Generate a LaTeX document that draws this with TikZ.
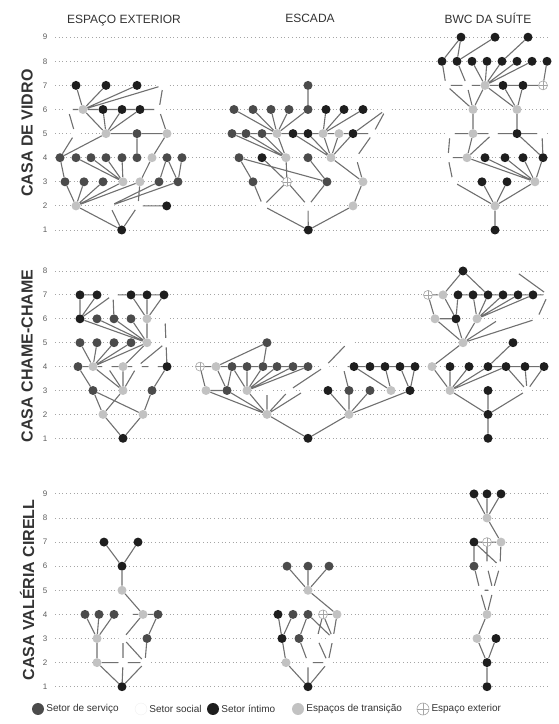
\documentclass[tikz,border=0pt]{standalone}
\usepackage{fontspec}
\setmainfont{Liberation Sans}
\usetikzlibrary{positioning}
\definecolor{srvcol}{HTML}{4B4B4B}
\definecolor{intcol}{HTML}{1E1E1E}
\definecolor{tracol}{HTML}{C2C2C2}
\definecolor{edgecol}{HTML}{707070}
\definecolor{lvlcol}{HTML}{A5A5A5}
\definecolor{txtcol}{HTML}{333333}
\pgfdeclarelayer{bg}
\pgfsetlayers{bg,main}
\tikzset{
  vert/.style={circle, inner sep=0pt, minimum size=9pt},
  srv/.style={vert, fill=srvcol},
  soc/.style={vert, fill=white},
  inti/.style={vert, fill=intcol},
  tra/.style={vert, fill=tracol},
  ext/.style={vert, fill=white, draw=lvlcol, line width=0.6pt,
    path picture={\draw[lvlcol, line width=0.5pt]
      (path picture bounding box.north) -- (path picture bounding box.south)
      (path picture bounding box.west) -- (path picture bounding box.east);}},
  lig/.style={draw=edgecol, line width=1.1pt},
  lvl/.style={draw=lvlcol, line width=0.9pt, dash pattern=on 0.9pt off 2.8pt},
  num/.style={font=\fontsize{8}{8}\selectfont, text=txtcol!80},
  ttl/.style={font=\fontsize{12}{12}\selectfont, text=txtcol, anchor=base},
  casa/.style={font=\bfseries\fontsize{16}{16}\selectfont, text=txtcol, rotate=90},
  leg/.style={font=\fontsize{10}{10}\selectfont, text=txtcol, inner sep=1pt},
}
\begin{document}
\begin{tikzpicture}[x=1pt, y=1pt]
\useasboundingbox (0,0) rectangle (559,724);

% titulos
\node[ttl] (tExt) at (124,700) {ESPAÇO EXTERIOR};
\node[ttl] (tEsc) at (310,701) {ESCADA};
\node[ttl] (tBwc) at (488,700) {BWC DA SUÍTE};
\node[casa] (cVid) at (27,591) {CASA DE VIDRO};
\node[casa] (cCha) at (27,368) {CASA CHAME-CHAME};
\node[casa] (cVal) at (27,134) {CASA VALÉRIA CIRELL};

% ---------------- casa de vidro
\begin{scope}[y=24.1pt, yshift=469.9pt]
\begin{pgfonlayer}{bg}
\foreach \l in {1,...,9} \draw[lvl] (55,\l) -- (548,\l);
\end{pgfonlayer}
\foreach \l in {1,...,9} \node[num] (ra\l) at (45,\l) {\l};
% espaco exterior
\node[inti] (a1) at (121.7,1) {};
\node[tra] (a2a) at (76,2) {}; \node[soc] (a2b) at (110,2) {}; \node[soc] (a2c) at (138,2) {}; \node[inti] (a2d) at (166.7,2) {};
\node[srv] (a3a) at (65,3) {}; \node[srv] (a3b) at (84,3) {}; \node[srv] (a3c) at (103,3) {}; \node[tra] (a3d) at (123,3) {};
\node[tra] (a3e) at (140,3) {}; \node[srv] (a3f) at (159,3) {}; \node[srv] (a3g) at (178,3) {};
\node[srv] (a4a) at (60,4) {}; \node[srv] (a4b) at (76,4) {}; \node[srv] (a4c) at (91,4) {}; \node[srv] (a4d) at (106,4) {};
\node[srv] (a4e) at (122,4) {}; \node[srv] (a4f) at (137,4) {}; \node[tra] (a4g) at (152,4) {}; \node[srv] (a4h) at (167,4) {}; \node[srv] (a4i) at (182,4) {};
\node[soc] (a5a) at (75,5) {}; \node[tra] (a5b) at (106,5) {}; \node[srv] (a5c) at (137,5) {}; \node[tra] (a5d) at (167,5) {};
\node[soc] (a6a) at (68,6) {}; \node[tra] (a6b) at (83,6) {}; \node[inti] (a6c) at (103,6) {}; \node[inti] (a6d) at (122,6) {};
\node[inti] (a6e) at (140,6) {}; \node[soc] (a6f) at (159,6) {};
\node[inti] (a7a) at (76,7) {}; \node[inti] (a7b) at (106,7) {}; \node[inti] (a7c) at (137,7) {}; \node[soc] (a7d) at (163,7) {};
% escada
\node[inti] (b1) at (308.3,1) {};
\node[soc] (b2a) at (263,2) {}; \node[soc] (b2b) at (308,2) {}; \node[tra] (b2c) at (353,2) {};
\node[srv] (b3a) at (253,3) {}; \node[ext] (b3b) at (287,3) {}; \node[srv] (b3c) at (327,3) {}; \node[tra] (b3d) at (363,3) {};
\node[srv] (b4a) at (239,4) {}; \node[inti] (b4b) at (262,4) {}; \node[tra] (b4c) at (286,4) {}; \node[srv] (b4d) at (308,4) {};
\node[tra] (b4e) at (331,4) {}; \node[soc] (b4f) at (356,4) {};
\node[srv] (b5a) at (232,5) {}; \node[srv] (b5b) at (246,5) {}; \node[srv] (b5c) at (262,5) {}; \node[tra] (b5d) at (277,5) {};
\node[inti] (b5e) at (293,5) {}; \node[inti] (b5f) at (308,5) {}; \node[tra] (b5g) at (323,5) {}; \node[tra] (b5h) at (339,5) {};
\node[inti] (b5i) at (353,5) {}; \node[soc] (b5j) at (373,5) {};
\node[srv] (b6a) at (234,6) {}; \node[srv] (b6b) at (253,6) {}; \node[srv] (b6c) at (271,6) {}; \node[srv] (b6d) at (289,6) {};
\node[srv] (b6e) at (308,6) {}; \node[inti] (b6f) at (326,6) {}; \node[inti] (b6g) at (344,6) {}; \node[inti] (b6h) at (363,6) {};
\node[soc] (b6i) at (386,6) {};
\node[srv] (b7) at (308,7) {};
% bwc da suite
\node[inti] (c1) at (495,1) {};
\node[tra] (c2) at (495,2) {};
\node[soc] (c3a) at (453,3) {}; \node[inti] (c3b) at (482,3) {}; \node[inti] (c3c) at (507,3) {}; \node[tra] (c3d) at (535,3) {};
\node[soc] (c4a) at (448,4) {}; \node[tra] (c4b) at (467,4) {}; \node[inti] (c4c) at (485,4) {}; \node[inti] (c4d) at (505,4) {};
\node[inti] (c4e) at (523,4) {}; \node[inti] (c4f) at (543,4) {};
\node[soc] (c5a) at (450,5) {}; \node[tra] (c5b) at (473,5) {}; \node[soc] (c5c) at (493,5) {}; \node[inti] (c5d) at (517,5) {}; \node[soc] (c5e) at (542,5) {};
\node[tra] (c6a) at (473,6) {}; \node[tra] (c6b) at (517,6) {};
\node[soc] (c7a) at (446,7) {}; \node[soc] (c7b) at (467,7) {}; \node[tra] (c7c) at (485,7) {}; \node[inti] (c7d) at (503,7) {};
\node[inti] (c7e) at (523,7) {}; \node[ext] (c7f) at (543,7) {};
\node[inti] (c8a) at (442,8) {}; \node[inti] (c8b) at (457,8) {}; \node[inti] (c8c) at (472,8) {}; \node[inti] (c8d) at (487,8) {};
\node[inti] (c8e) at (502,8) {}; \node[inti] (c8f) at (517,8) {}; \node[inti] (c8g) at (532,8) {}; \node[inti] (c8h) at (547,8) {};
\node[inti] (c9a) at (461,9) {}; \node[inti] (c9b) at (495,9) {}; \node[inti] (c9c) at (528,9) {};
\begin{pgfonlayer}{bg}
\draw[lig] (a1) -- (a2a) (a1) -- (a2b) (a1) -- (a2c) (a2c) -- (a2d)
  (a2a) -- (a3a) (a3a) -- (a4a) (a2a) -- (a3b) (a2a) -- (a3c) (a2a) -- (a3d) (a2a) -- (a3e)
  (a2b) -- (a3f) (a2b) -- (a3g) (a2c) -- (a3e)
  (a4b) -- (a3d) (a4c) -- (a3d) (a4d) -- (a3d) (a4e) -- (a3d) (a4f) -- (a5c)
  (a3e) -- (a4g) (a4g) -- (a5d) (a3f) -- (a4h) (a4h) -- (a3g) (a3g) -- (a4i)
  (a4a) -- (a5b) (a4a) -- (a5a) (a5a) -- (a6a)
  (a5b) -- (a6b) (a5b) -- (a6c) (a5b) -- (a6d) (a5b) -- (a6e) (a5b) -- (a5c) (a5c) -- (a5d)
  (a6a) -- (a6b) (a6b) -- (a6c) (a6c) -- (a6d) (a6d) -- (a6e) (a6e) -- (a6f)
  (a6f) -- (a7d) (a6f) -- (a5d)
  (a6b) -- (a7a) (a6b) -- (a7b) (a6b) -- (a7c) (a6b) -- (a7d);
\draw[lig] (b1) -- (b2a) (b1) -- (b2b) (b1) -- (b2c)
  (b2a) -- (b3a) (b2a) -- (b3b) (b2b) -- (b3b) (b2b) -- (b3c) (b2c) -- (b3d)
  (b3a) -- (b4a) (b4a) -- (b3c) (b4b) -- (b3b) (b4c) -- (b3b) (b4d) -- (b3c)
  (b4e) -- (b3d) (b4f) -- (b3d) (b4f) -- (b5j)
  (b5a) -- (b4c) (b5b) -- (b4c) (b5c) -- (b4c) (b5d) -- (b4c)
  (b5e) -- (b4e) (b5f) -- (b4e) (b5g) -- (b4e) (b5h) -- (b4e) (b5i) -- (b4e)
  (b5a) -- (b5b) (b5b) -- (b5c) (b5c) -- (b5d) (b5d) -- (b5e) (b5e) -- (b5f)
  (b5f) -- (b5g) (b5g) -- (b5h) (b5h) -- (b5i) (b5i) -- (b5j)
  (b6a) -- (b5d) (b6b) -- (b5d) (b6c) -- (b5d) (b6d) -- (b5d) (b6e) -- (b5d)
  (b6f) -- (b5g) (b6g) -- (b5g) (b6h) -- (b5g) (b6i) -- (b5i) (b6i) -- (b5j)
  (b7) -- (b6e);
\draw[lig] (c1) -- (c2) (c2) -- (c3a) (c2) -- (c3b) (c2) -- (c3c) (c2) -- (c3d)
  (c3a) -- (c4a) (c4a) -- (c5a) (c4a) -- (c4b)
  (c4b) -- (c3d) (c4c) -- (c3d) (c4d) -- (c3d) (c4e) -- (c3d) (c4f) -- (c3d)
  (c4b) -- (c5b) (c4b) -- (c5c)
  (c5a) -- (c5b) (c5b) -- (c5c) (c5c) -- (c5d) (c5d) -- (c5e)
  (c5b) -- (c6a) (c5d) -- (c6b) (c5d) -- (c4f) (c5e) -- (c4f)
  (c6a) -- (c7a) (c6a) -- (c7b) (c6a) -- (c7c)
  (c6b) -- (c7c) (c6b) -- (c7d) (c6b) -- (c7e)
  (c7a) -- (c7b) (c7b) -- (c7c) (c7c) -- (c7d) (c7d) -- (c7e) (c7e) -- (c7f)
  (c7c) -- (c8c) (c7c) -- (c8d) (c7c) -- (c8e) (c7c) -- (c8f) (c7c) -- (c8g)
  (c7a) -- (c8a) (c7b) -- (c8b) (c8h) -- (c7f)
  (c8a) -- (c9a) (c8b) -- (c9a) (c8b) -- (c9b) (c8e) -- (c9c);
\end{pgfonlayer}
\end{scope}

% ---------------- casa chame-chame
\begin{scope}[y=23.9pt, yshift=261.8pt]
\begin{pgfonlayer}{bg}
\foreach \l in {1,...,8} \draw[lvl] (55,\l) -- (548,\l);
\end{pgfonlayer}
\foreach \l in {1,...,8} \node[num] (rb\l) at (45,\l) {\l};
% espaco exterior
\node[inti] (d1) at (123,1) {};
\node[tra] (d2a) at (103,2) {}; \node[tra] (d2b) at (143,2) {};
\node[srv] (d3a) at (93,3) {}; \node[tra] (d3b) at (123,3) {}; \node[srv] (d3c) at (152,3) {};
\node[srv] (d4a) at (78,4) {}; \node[tra] (d4b) at (93,4) {}; \node[soc] (d4c) at (107,4) {}; \node[tra] (d4d) at (123,4) {};
\node[soc] (d4e) at (137,4) {}; \node[soc] (d4f) at (153,4) {}; \node[inti] (d4g) at (167,4) {};
\node[srv] (d5a) at (80,5) {}; \node[srv] (d5b) at (97,5) {}; \node[srv] (d5c) at (114,5) {}; \node[srv] (d5d) at (131,5) {};
\node[tra] (d5e) at (147,5) {}; \node[soc] (d5f) at (166,5) {};
\node[inti] (d6a) at (80,6) {}; \node[srv] (d6b) at (97,6) {}; \node[srv] (d6c) at (114,6) {}; \node[srv] (d6d) at (131,6) {};
\node[tra] (d6e) at (147,6) {}; \node[soc] (d6f) at (165,6) {};
\node[inti] (d7a) at (80,7) {}; \node[inti] (d7b) at (97,7) {}; \node[soc] (d7c) at (113,7) {}; \node[inti] (d7d) at (131,7) {};
\node[inti] (d7e) at (147,7) {}; \node[inti] (d7f) at (164,7) {};
% escada
\node[inti] (e1) at (308,1) {};
\node[tra] (e2a) at (267,2) {}; \node[tra] (e2b) at (349,2) {};
\node[tra] (e3a) at (206,3) {}; \node[srv] (e3b) at (227,3) {}; \node[tra] (e3c) at (247,3) {}; \node[soc] (e3d) at (267,3) {};
\node[soc] (e3e) at (289,3) {}; \node[soc] (e3f) at (305,3) {}; \node[inti] (e3g) at (328,3) {}; \node[srv] (e3h) at (349,3) {};
\node[srv] (e3i) at (370,3) {}; \node[tra] (e3j) at (391,3) {}; \node[inti] (e3k) at (410,3) {};
\node[ext] (e4a) at (200,4) {}; \node[tra] (e4b) at (216,4) {}; \node[srv] (e4c) at (232,4) {}; \node[srv] (e4d) at (247,4) {};
\node[srv] (e4e) at (263,4) {}; \node[srv] (e4f) at (277,4) {}; \node[srv] (e4g) at (293,4) {}; \node[srv] (e4h) at (308,4) {};
\node[soc] (e4i) at (325,4) {}; \node[soc] (e4j) at (343,4) {}; \node[inti] (e4k) at (354,4) {}; \node[inti] (e4l) at (370,4) {};
\node[inti] (e4m) at (385,4) {}; \node[inti] (e4n) at (400,4) {}; \node[inti] (e4o) at (415,4) {};
\node[srv] (e5a) at (267,5) {}; \node[soc] (e5b) at (348,5) {};
% bwc da suite
\node[inti] (f1) at (488,1) {};
\node[inti] (f2) at (488,2) {};
\node[tra] (f3a) at (450,3) {}; \node[inti] (f3b) at (488,3) {}; \node[soc] (f3c) at (527,3) {};
\node[tra] (f4a) at (432,4) {}; \node[inti] (f4b) at (450,4) {}; \node[inti] (f4c) at (469,4) {}; \node[inti] (f4d) at (488,4) {};
\node[inti] (f4e) at (506,4) {}; \node[inti] (f4f) at (525,4) {}; \node[inti] (f4g) at (544,4) {};
\node[tra] (f5a) at (463,5) {}; \node[inti] (f5b) at (513,5) {};
\node[tra] (f6a) at (435,6) {}; \node[inti] (f6b) at (456,6) {}; \node[tra] (f6c) at (477,6) {}; \node[soc] (f6d) at (500,6) {};
\node[soc] (f6e) at (537,6) {};
\node[ext] (f7a) at (428,7) {}; \node[tra] (f7b) at (443,7) {}; \node[inti] (f7c) at (458,7) {}; \node[inti] (f7d) at (473,7) {};
\node[inti] (f7e) at (488,7) {}; \node[inti] (f7f) at (503,7) {}; \node[inti] (f7g) at (518,7) {}; \node[inti] (f7h) at (533,7) {};
\node[soc] (f7i) at (548,7) {};
\node[inti] (f8a) at (463,8) {}; \node[soc] (f8b) at (515,8) {};
\begin{pgfonlayer}{bg}
\draw[lig] (d1) -- (d2a) (d1) -- (d2b) (d2a) -- (d3a) (d2a) -- (d3b) (d3a) -- (d2b) (d2b) -- (d3c)
  (d3a) -- (d4a) (d3b) -- (d4b) (d3b) -- (d4c) (d3b) -- (d4d) (d3b) -- (d4e) (d3c) -- (d4g)
  (d4a) -- (d4b) (d4b) -- (d4c) (d4c) -- (d4d) (d4d) -- (d4e) (d4e) -- (d4f) (d4f) -- (d4g)
  (d4b) -- (d5a) (d4b) -- (d5b) (d4b) -- (d5c) (d4b) -- (d5d) (d4b) -- (d5e)
  (d4d) -- (d5e) (d4e) -- (d5f) (d4g) -- (d5f) (d5f) -- (d6f)
  (d5e) -- (d6a) (d5e) -- (d6b) (d5e) -- (d6c) (d5e) -- (d6d) (d5e) -- (d6e)
  (d6a) -- (d7a) (d6a) -- (d7b) (d6a) -- (d7c) (d6c) -- (d7c)
  (d7a) -- (d7b) (d7c) -- (d7d) (d7d) -- (d7e) (d7e) -- (d7f)
  (d6e) -- (d7d) (d6e) -- (d7e) (d6e) -- (d7f);
\draw[lig] (e1) -- (e2a) (e1) -- (e2b)
  (e2a) -- (e3a) (e2a) -- (e3b) (e2a) -- (e3c) (e2a) -- (e3d) (e2a) -- (e3e) (e2a) -- (e3f)
  (e3a) -- (e3b) (e3a) -- (e4a) (e4a) -- (e4b) (e4b) -- (e3b) (e3b) -- (e4c) (e4c) -- (e3c)
  (e3c) -- (e4d) (e3c) -- (e4e) (e3c) -- (e4f) (e3c) -- (e4g) (e3c) -- (e4h)
  (e4b) -- (e4c) (e4c) -- (e4d) (e4d) -- (e4e) (e4e) -- (e4f) (e4f) -- (e4g) (e4g) -- (e4h)
  (e4b) -- (e5a) (e5a) -- (e4e) (e3e) -- (e4i) (e4i) -- (e5b)
  (e2b) -- (e3g) (e2b) -- (e3h) (e2b) -- (e3i) (e2b) -- (e3k) (e3h) -- (e4j)
  (e4j) -- (e4k) (e4k) -- (e4l) (e4l) -- (e4m) (e4m) -- (e4n) (e4n) -- (e4o)
  (e4k) -- (e3j) (e4m) -- (e3j) (e4n) -- (e3k) (e4o) -- (e3k);
\draw[lig] (f1) -- (f2) (f2) -- (f3a) (f2) -- (f3b) (f2) -- (f3c)
  (f3a) -- (f4b) (f3a) -- (f4c) (f3a) -- (f4d) (f3a) -- (f4e) (f4a) -- (f3a)
  (f3c) -- (f4e) (f3c) -- (f4f) (f3c) -- (f4g)
  (f4d) -- (f5b) (f4d) -- (f4e) (f4e) -- (f4f) (f4f) -- (f4g)
  (f4a) -- (f5a) (f5a) -- (f6a) (f5a) -- (f6b) (f5a) -- (f6c) (f5a) -- (f6d) (f5a) -- (f6e)
  (f6a) -- (f6b) (f7a) -- (f6a) (f7a) -- (f7b) (f7b) -- (f6b) (f7b) -- (f8a) (f8a) -- (f7e)
  (f7c) -- (f6b) (f7c) -- (f7d) (f7d) -- (f7e) (f7e) -- (f7f) (f7f) -- (f7g) (f7g) -- (f7h) (f7h) -- (f7i)
  (f7d) -- (f6c) (f7e) -- (f6c) (f7f) -- (f6c) (f7g) -- (f6c) (f7h) -- (f6c)
  (f7i) -- (f8b) (f7i) -- (f6e);
\end{pgfonlayer}
\end{scope}

% ---------------- casa valeria cirell
\begin{scope}[y=24.1pt, yshift=13.2pt]
\begin{pgfonlayer}{bg}
\foreach \l in {1,...,9} \draw[lvl] (55,\l) -- (548,\l);
\end{pgfonlayer}
\foreach \l in {1,...,9} \node[num] (rc\l) at (45,\l) {\l};
% espaco exterior
\node[inti] (g1) at (122,1) {};
\node[tra] (g2a) at (97,2) {}; \node[soc] (g2b) at (123,2) {}; \node[soc] (g2c) at (145,2) {};
\node[tra] (g3a) at (97,3) {}; \node[soc] (g3b) at (123,3) {}; \node[srv] (g3c) at (147,3) {};
\node[srv] (g4a) at (85,4) {}; \node[srv] (g4b) at (99,4) {}; \node[srv] (g4c) at (114,4) {};
\node[soc] (g4d) at (128,4) {}; \node[tra] (g4e) at (143,4) {}; \node[srv] (g4f) at (158,4) {};
\node[tra] (g5) at (122,5) {};
\node[inti] (g6) at (122,6) {};
\node[inti] (g7a) at (104,7) {}; \node[inti] (g7b) at (138,7) {};
% escada
\node[inti] (h1) at (308,1) {};
\node[tra] (h2a) at (286,2) {}; \node[soc] (h2b) at (308,2) {}; \node[soc] (h2c) at (328,2) {};
\node[inti] (h3a) at (282,3) {}; \node[srv] (h3b) at (299,3) {}; \node[soc] (h3c) at (317,3) {}; \node[soc] (h3d) at (333,3) {};
\node[inti] (h4a) at (278,4) {}; \node[srv] (h4b) at (293,4) {}; \node[srv] (h4c) at (308,4) {};
\node[ext] (h4d) at (323,4) {}; \node[tra] (h4e) at (337,4) {};
\node[tra] (h5) at (308,5) {};
\node[srv] (h6a) at (287,6) {}; \node[srv] (h6b) at (308,6) {}; \node[srv] (h6c) at (329,6) {};
% bwc da suite
\node[inti] (i1) at (487,1) {};
\node[inti] (i2) at (487,2) {};
\node[tra] (i3a) at (477,3) {}; \node[inti] (i3b) at (496,3) {};
\node[tra] (i4) at (487,4) {};
\node[soc] (i5a) at (480,5) {}; \node[soc] (i5b) at (493,5) {};
\node[srv] (i6a) at (474,6) {}; \node[soc] (i6b) at (487,6) {}; \node[soc] (i6c) at (500,6) {};
\node[inti] (i7a) at (474,7) {}; \node[ext] (i7b) at (487,7) {}; \node[tra] (i7c) at (501,7) {};
\node[tra] (i8) at (487,8) {};
\node[inti] (i9a) at (474,9) {}; \node[inti] (i9b) at (487,9) {}; \node[inti] (i9c) at (501,9) {};
\begin{pgfonlayer}{bg}
\draw[lig] (g7a) -- (g6) (g7b) -- (g6) (g6) -- (g5) (g5) -- (g4e)
  (g4d) -- (g4e) (g4e) -- (g4f) (g4e) -- (g3b) (g4f) -- (g3c) (g3c) -- (g2c)
  (g4a) -- (g3a) (g4b) -- (g3a) (g4c) -- (g3a) (g3a) -- (g2a)
  (g2a) -- (g2b) (g2b) -- (g2c) (g2a) -- (g1) (g2b) -- (g1) (g2c) -- (g1)
  (g3b) -- (g2b) (g3b) -- (g2c);
\draw[lig] (h6a) -- (h5) (h6b) -- (h5) (h6c) -- (h5) (h5) -- (h4e)
  (h4d) -- (h4e) (h4c) -- (h3d) (h4d) -- (h3c) (h4d) -- (h3d) (h4e) -- (h3d)
  (h4a) -- (h3a) (h4b) -- (h3a) (h4c) -- (h3b) (h3a) -- (h2a) (h2a) -- (h1)
  (h3b) -- (h2b) (h3c) -- (h2c) (h3d) -- (h2c) (h2b) -- (h2c) (h2b) -- (h1) (h2c) -- (h1);
\draw[lig] (i9a) -- (i8) (i9b) -- (i8) (i9c) -- (i8) (i8) -- (i7c)
  (i7a) -- (i7b) (i7b) -- (i7c) (i7a) -- (i6a) (i7a) -- (i6c) (i7b) -- (i6b) (i7c) -- (i6c)
  (i6a) -- (i5a) (i6b) -- (i5b) (i6c) -- (i5b) (i5a) -- (i5b) (i5a) -- (i4) (i5b) -- (i4)
  (i4) -- (i3a) (i3a) -- (i2) (i3b) -- (i2) (i2) -- (i1);
\end{pgfonlayer}
\end{scope}

% legenda
\node[srv, minimum size=12pt] (lgSrv) at (38,15) {};
\node[leg, right=1pt of lgSrv] (txSrv) {Setor de serviço};
\node[soc, minimum size=12pt, draw=black!6] (lgSoc) at (141,15) {};
\node[leg, right=1pt of lgSoc] (txSoc) {Setor social};
\node[inti, minimum size=12pt] (lgInt) at (213,15) {};
\node[leg, right=1pt of lgInt] (txInt) {Setor íntimo};
\node[tra, minimum size=12pt] (lgTra) at (298,15) {};
\node[leg, right=1pt of lgTra] (txTra) {Espaços de transição};
\node[ext, minimum size=12pt] (lgExt) at (423,15) {};
\node[leg, right=1pt of lgExt] (txExt) {Espaço exterior};
\end{tikzpicture}
\end{document}
